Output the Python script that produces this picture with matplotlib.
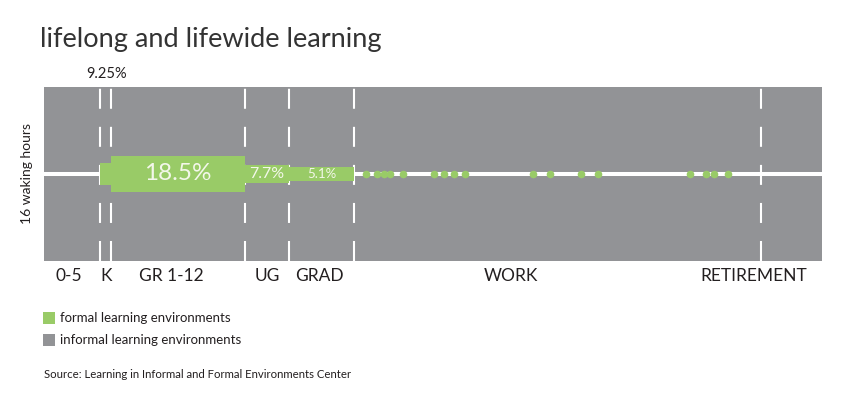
import numpy as np
import matplotlib
matplotlib.use("Agg")
import matplotlib.pyplot as plt
from matplotlib.patches import Rectangle

plt.rcParams['font.family'] = ['Lato', 'DejaVu Sans']

# данные: ось x — годы жизни, ось y — 16 часов бодрствования
boundaries = [5, 6, 18, 22, 27.8, 64.3]
x_max = 69.8
hours = 16

# формальное обучение (блоки): начало, конец, высота в часах, подпись
bar_start = [5, 6, 18, 22]
bar_end = [6, 18, 22, 27.8]
bar_height = [1.95, 3.4, 1.65, 1.25]
bar_labels = ['', '18.5%', '7.7%', '5.1%']
bar_label_size = [0, 17.5, 11.5, 9.5]

# точки формального обучения во время работы
dot_ages = [28.9, 29.9, 30.5, 31.0, 32.2, 35.0, 35.9, 36.8, 37.8,
            43.9, 45.4, 48.2, 49.7, 58.0, 59.4, 60.1, 61.4]

# подписи этапов и их положение
stage_names = ['0-5', 'K', 'GR 1-12', 'UG', 'GRAD', 'WORK', 'RETIREMENT']
stage_pos = [2.2, 5.57, 11.4, 20.0, 24.7, 41.9, 63.7]

gray = '#929396'
green = '#99CB67'
text_col = '#231f20'

fig = plt.figure(figsize=(8.54, 3.99), dpi=100)
ax = fig.add_axes([44/854, (399-261)/399, (822-44)/854, 174/399])
ax.set_xlim(0, x_max)
ax.set_ylim(0, hours)
ax.set_facecolor(gray)
for s in ax.spines.values():
    s.set_visible(False)
ax.set_xticks([])
ax.set_yticks([])

mid = hours / 2
ax.axhline(mid, color='white', lw=2.9, zorder=1)

lw = 1.5
for b in boundaries:
    ax.axvline(b, color='white', lw=lw, zorder=1,
               linestyle=(0, (14.4/lw, 13.0/lw)))

for x0, x1, h, lab, fs in zip(bar_start, bar_end, bar_height, bar_labels, bar_label_size):
    ax.add_patch(Rectangle((x0, mid - h/2), x1 - x0, h, color=green, lw=0, zorder=2))
    if lab:
        ax.text((x0 + x1)/2, mid, lab, color='#f3f7ea', fontsize=fs,
                ha='center', va='center', zorder=3)

ax.scatter(dot_ages, [mid]*len(dot_ages), s=30, color=green, lw=0, zorder=3)

for name, p in zip(stage_names, stage_pos):
    ax.text(p, -0.086, name, transform=ax.get_xaxis_transform(),
            ha='center', va='center', fontsize=12.5, color=text_col)

ax.text(5.6, 1.075, '9.25%', transform=ax.get_xaxis_transform(),
        ha='center', va='center', fontsize=10.5, color=text_col)

ax.text(-0.022, 0.5, '16 waking hours', transform=ax.transAxes, rotation=90,
        ha='center', va='center', fontsize=10, color=text_col)

fig.text(40/854, 1 - 40/399, 'lifelong and lifewide learning', fontsize=19.5,
         color='#333333', ha='left', va='center')

# легенда
legend_items = ['formal learning environments', 'informal learning environments']
legend_cols = [green, gray]
for i, (lab, c) in enumerate(zip(legend_items, legend_cols)):
    yc = 318 + i * 21.5
    fig.add_artist(Rectangle((43/854, 1 - (yc + 6)/399), 12/854, 12/399,
                             color=c, lw=0, transform=fig.transFigure))
    fig.text(60/854, 1 - yc/399, lab, fontsize=9.5, color=text_col,
             ha='left', va='center')

fig.text(44/854, 1 - 374/399, 'Source: Learning in Informal and Formal Environments Center',
         fontsize=8.2, color=text_col, ha='left', va='center')

fig.savefig('out.png', dpi=100)
